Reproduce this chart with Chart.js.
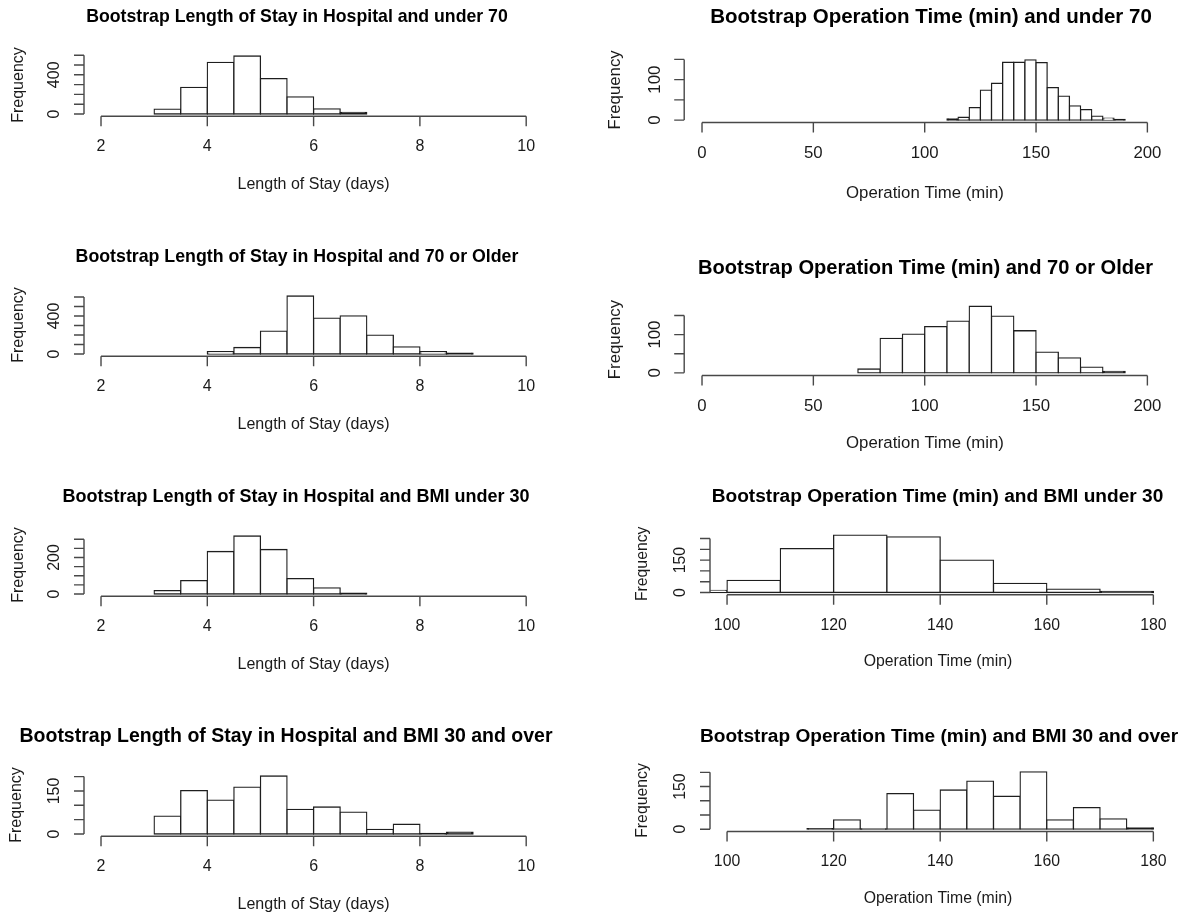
<!DOCTYPE html>
<html>
<head>
<meta charset="utf-8">
<script src="https://cdn.jsdelivr.net/npm/chart.js@4.4.1/dist/chart.umd.min.js"></script>
<style>
html, body { margin: 0; padding: 0; background: #ffffff; }
#page { position: relative; width: 1183px; height: 918px; overflow: hidden; background: #ffffff; }
#page canvas { position: absolute; left: 0; top: 0; }
</style>
</head>
<body>
<div id="page"></div>
<script>
// ---------------- DATA ----------------
// Length of stay (days) histograms
const losUnder70Breaks = [3, 3.5, 4, 4.5, 5, 5.5, 6, 6.5, 7];
const losUnder70Counts = [50, 272, 528, 592, 361, 175, 53, 15];

const los70OlderBreaks = [4, 4.5, 5, 5.5, 6, 6.5, 7, 7.5, 8, 8.5, 9];
const los70OlderCounts = [24, 68, 240, 610, 377, 400, 199, 75, 24, 10];

const losBmiUnder30Breaks = [3, 3.5, 4, 4.5, 5, 5.5, 6, 6.5, 7];
const losBmiUnder30Counts = [18, 73, 233, 318, 244, 84, 33, 5];

const losBmi30OverBreaks = [3, 3.5, 4, 4.5, 5, 5.5, 6, 6.5, 7, 7.5, 8, 8.5, 9];
const losBmi30OverCounts = [62, 151, 118, 163, 202, 86, 94, 76, 16, 34, 2, 6];

// Operation time (min) histograms
const opUnder70Breaks = [110, 115, 120, 125, 130, 135, 140, 145, 150, 155, 160, 165, 170, 175, 180, 185, 190];
const opUnder70Counts = [3, 7, 31, 74, 91, 143, 143, 149, 142, 80, 59, 35, 26, 10, 5, 2];

const op70OlderBreaks = [70, 80, 90, 100, 110, 120, 130, 140, 150, 160, 170, 180, 190];
const op70OlderCounts = [10, 90, 101, 121, 135, 174, 148, 110, 54, 39, 15, 4];

const opBmiUnder30Breaks = [90, 100, 110, 120, 130, 140, 150, 160, 170, 180];
const opBmiUnder30Counts = [10, 56, 203, 266, 258, 150, 42, 16, 5];

const opBmi30OverBreaks = [115, 120, 125, 130, 135, 140, 145, 150, 155, 160, 165, 170, 175, 180];
const opBmi30OverCounts = [2, 33, 1, 125, 67, 138, 169, 116, 202, 33, 76, 36, 5];

// Tick labels
const losXTicks = [2, 4, 6, 8, 10];
const opWideXTicks = [0, 50, 100, 150, 200];
const opNarrowXTicks = [100, 120, 140, 160, 180];
const yTicks0to600 = [0, 100, 200, 300, 400, 500, 600];
const yTicks0to300 = [0, 50, 100, 150, 200, 250, 300];
const yTicks0to250 = [0, 50, 100, 150, 200, 250];
const yTicks0to200 = [0, 50, 100, 150, 200];
const yTicks0to150 = [0, 50, 100, 150];

// Titles
const titles = [
  'Bootstrap Length of Stay in Hospital and under 70',
  'Bootstrap Operation Time (min) and under 70',
  'Bootstrap Length of Stay in Hospital and 70 or Older',
  'Bootstrap Operation Time (min) and 70 or Older',
  'Bootstrap Length of Stay in Hospital and BMI under 30',
  'Bootstrap Operation Time (min) and BMI under 30',
  'Bootstrap Length of Stay in Hospital and BMI 30 and over',
  'Bootstrap Operation Time (min) and BMI 30 and over'
];
const losXLabel = 'Length of Stay (days)';
const opXLabel = 'Operation Time (min)';
const yLabel = 'Frequency';

// ---------------- LAYOUT ----------------
const W = 1183, H = 918;
const FONT = '"Liberation Sans", Arial, Helvetica, sans-serif';

const panels = [
  { title: titles[0], breaks: losUnder70Breaks, counts: losUnder70Counts, xlim: [2, 10], xTicks: losXTicks, yTicks: yTicks0to600, yLabels: [0, 400], xLabel: losXLabel,
    box: { left: 84.0, right: 543.2, top: 53.7, bottom: 116.3 }, titleX: 297, titleY: 17, titleSize: 17.7, textSize: 16, xLabX: 313.6, xLabY: 185, freqX: 18.3 },
  { title: titles[1], breaks: opUnder70Breaks, counts: opUnder70Counts, xlim: [0, 200], xTicks: opWideXTicks, yTicks: yTicks0to150, yLabels: [0, 100], xLabel: opXLabel,
    box: { left: 684.2, right: 1165.2, top: 57.4, bottom: 122.5 }, titleX: 931, titleY: 17, titleSize: 20.5, textSize: 16.8, xLabX: 925, xLabY: 193, freqX: 615 },
  { title: titles[2], breaks: los70OlderBreaks, counts: los70OlderCounts, xlim: [2, 10], xTicks: losXTicks, yTicks: yTicks0to600, yLabels: [0, 400], xLabel: losXLabel,
    box: { left: 84.0, right: 543.2, top: 293.7, bottom: 356.3 }, titleX: 297, titleY: 257, titleSize: 17.75, textSize: 16, xLabX: 313.6, xLabY: 425, freqX: 18.3 },
  { title: titles[3], breaks: op70OlderBreaks, counts: op70OlderCounts, xlim: [0, 200], xTicks: opWideXTicks, yTicks: yTicks0to150, yLabels: [0, 100], xLabel: opXLabel,
    box: { left: 684.2, right: 1165.2, top: 303.6, bottom: 375.5 }, titleX: 925.5, titleY: 268, titleSize: 20.1, textSize: 16.8, xLabX: 925, xLabY: 443, freqX: 615 },
  { title: titles[4], breaks: losBmiUnder30Breaks, counts: losBmiUnder30Counts, xlim: [2, 10], xTicks: losXTicks, yTicks: yTicks0to300, yLabels: [0, 200], xLabel: losXLabel,
    box: { left: 84.0, right: 543.2, top: 533.7, bottom: 596.3 }, titleX: 296, titleY: 497, titleSize: 18, textSize: 16, xLabX: 313.6, xLabY: 665, freqX: 18.3 },
  { title: titles[5], breaks: opBmiUnder30Breaks, counts: opBmiUnder30Counts, xlim: [100, 180], xTicks: opNarrowXTicks, yTicks: yTicks0to250, yLabels: [0, 150], xLabel: opXLabel,
    box: { left: 710.0, right: 1170.4, top: 532.8, bottom: 594.8 }, titleX: 937.5, titleY: 497, titleSize: 19.1, textSize: 15.8, xLabX: 938, xLabY: 662, freqX: 643 },
  { title: titles[6], breaks: losBmi30OverBreaks, counts: losBmi30OverCounts, xlim: [2, 10], xTicks: losXTicks, yTicks: yTicks0to200, yLabels: [0, 150], xLabel: losXLabel,
    box: { left: 84.0, right: 543.2, top: 773.7, bottom: 836.3 }, titleX: 286, titleY: 737, titleSize: 19.5, textSize: 16, xLabX: 313.6, xLabY: 905, freqX: 17 },
  { title: titles[7], breaks: opBmi30OverBreaks, counts: opBmi30OverCounts, xlim: [100, 180], xTicks: opNarrowXTicks, yTicks: yTicks0to200, yLabels: [0, 150], xLabel: opXLabel,
    box: { left: 710.0, right: 1170.4, top: 769.5, bottom: 831.5 }, titleX: 939, titleY: 737, titleSize: 19.1, textSize: 15.8, xLabX: 938, xLabY: 899, freqX: 643 }
];

// R base-graphics style axes, titles and labels
const rStylePlugin = {
  id: 'rStyle',
  afterDraw(chart, args, o) {
    const ctx = chart.ctx;
    const xs = chart.scales.x, ys = chart.scales.y;
    const area = chart.chartArea;
    const tickLen = 10;
    ctx.save();
    ctx.strokeStyle = '#484848';
    ctx.lineWidth = 1.4;
    // x axis
    const yAx = area.bottom;
    const xt = o.xTicks;
    ctx.beginPath();
    ctx.moveTo(xs.getPixelForValue(xt[0]), yAx);
    ctx.lineTo(xs.getPixelForValue(xt[xt.length - 1]), yAx);
    xt.forEach(v => {
      const p = xs.getPixelForValue(v);
      ctx.moveTo(p, yAx);
      ctx.lineTo(p, yAx + tickLen);
    });
    ctx.stroke();
    // y axis
    const xAx = area.left;
    const yt = o.yTicks;
    ctx.beginPath();
    ctx.moveTo(xAx, ys.getPixelForValue(yt[0]));
    ctx.lineTo(xAx, ys.getPixelForValue(yt[yt.length - 1]));
    yt.forEach(v => {
      const p = ys.getPixelForValue(v);
      ctx.moveTo(xAx, p);
      ctx.lineTo(xAx - tickLen, p);
    });
    ctx.stroke();

    ctx.fillStyle = '#1a1a1a';
    ctx.font = o.textSize + 'px ' + FONT;
    ctx.textAlign = 'center';
    ctx.textBaseline = 'middle';
    // x tick labels
    xt.forEach(v => {
      ctx.fillText(String(v), xs.getPixelForValue(v), yAx + 30.4);
    });
    // y tick labels (rotated, parallel to axis)
    o.yLabels.forEach(v => {
      ctx.save();
      ctx.translate(xAx - 29, ys.getPixelForValue(v));
      ctx.rotate(-Math.PI / 2);
      ctx.fillText(String(v), 0, 0);
      ctx.restore();
    });
    // x axis title
    ctx.fillText(o.xLabel, o.xLabX, o.xLabY);
    // y axis title
    ctx.save();
    ctx.translate(o.freqX, (area.top + area.bottom) / 2);
    ctx.rotate(-Math.PI / 2);
    ctx.fillText(yLabel, 0, 0);
    ctx.restore();
    // main title
    ctx.fillStyle = '#000';
    ctx.font = 'bold ' + o.titleSize + 'px ' + FONT;
    ctx.fillText(o.title, o.titleX, o.titleY);
    ctx.restore();
  }
};

const page = document.getElementById('page');
const BAR_LINE = 1.3;

panels.forEach((p) => {
  const canvas = document.createElement('canvas');
  canvas.width = W;
  canvas.height = H;
  canvas.style.width = W + 'px';
  canvas.style.height = H + 'px';
  page.appendChild(canvas);

  const centers = p.breaks.slice(0, -1).map((b, i) => (b + p.breaks[i + 1]) / 2);
  const points = centers.map((c, i) => ({ x: c, y: p.counts[i] }));
  const maxCount = Math.max(...p.counts);
  const xRange = p.xlim[1] - p.xlim[0];

  // very short bars: R draws top and bottom edges on top of each other -> a dark line
  const barFill = (c) => {
    const ys = c.chart.scales.y;
    if (!ys || !c.raw) return '#ffffff';
    const hPx = Math.abs(ys.getPixelForValue(c.raw.y) - ys.getPixelForValue(0));
    return hPx < 1.8 ? '#1a1a1a' : '#ffffff';
  };

  new Chart(canvas, {
    type: 'bar',
    data: {
      datasets: [{
        data: points,
        backgroundColor: barFill,
        borderColor: '#1e1e1e',
        borderWidth: BAR_LINE,
        borderSkipped: false,
        inflateAmount: BAR_LINE / 2,
        barPercentage: 1,
        categoryPercentage: 1,
        grouped: false,
        clip: 0
      }]
    },
    options: {
      responsive: false,
      maintainAspectRatio: false,
      animation: false,
      events: [],
      devicePixelRatio: 1,
      layout: {
        padding: { left: p.box.left, top: p.box.top, right: W - p.box.right, bottom: H - p.box.bottom }
      },
      plugins: {
        legend: { display: false },
        tooltip: { enabled: false },
        title: { display: false },
        rStyle: { title: p.title, xTicks: p.xTicks, yTicks: p.yTicks, yLabels: p.yLabels, xLabel: p.xLabel,
                  titleX: p.titleX, titleY: p.titleY, titleSize: p.titleSize, textSize: p.textSize,
                  xLabX: p.xLabX, xLabY: p.xLabY, freqX: p.freqX }
      },
      scales: {
        x: {
          type: 'linear',
          display: false,
          offset: false,
          min: p.xlim[0] - 0.04 * xRange,
          max: p.xlim[1] + 0.04 * xRange,
          afterBuildTicks: s => { s.ticks = p.xTicks.map(v => ({ value: v })); }
        },
        y: {
          type: 'linear',
          display: false,
          min: -0.04 * maxCount,
          max: 1.04 * maxCount,
          afterBuildTicks: s => { s.ticks = p.yTicks.map(v => ({ value: v })); }
        }
      }
    },
    plugins: [rStylePlugin]
  });
});
</script>
</body>
</html>
